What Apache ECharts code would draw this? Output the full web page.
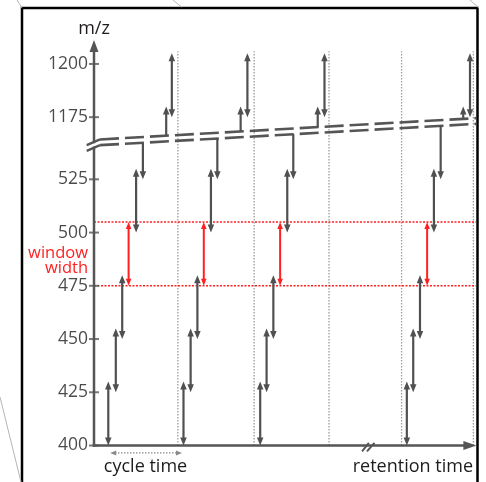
<!DOCTYPE html>
<html><head><meta charset="utf-8">
<script src="https://cdn.jsdelivr.net/npm/echarts@6/dist/echarts.min.js"></script>
<style>html,body{margin:0;padding:0;background:#fff}#c{width:486px;height:482px}</style>
</head><body><div id="c"></div>
<script>
// ---------------- data (m/z values; time in arbitrary units) ----------------
const yTickValues = [400, 425, 450, 475, 500, 525, 1175, 1200];
const windowLow  = [400, 425, 450, 475, 500];
const windowHigh = [430, 455, 480, 505, 530];
const redWindowIndex = 3;
const scanTimes = [
  [3.8, 5.8, 7.5, 9.2, 11.2],
  [23.8, 25.7, 27.5, 29.2, 31.1],
  [44.2, 45.9, 47.7, 49.5, 51.4],
  [83.2, 84.9, 86.7, 88.6, 90.4]
];
// window coming out of the axis break down to 525
const fromBreakTimes = [13.0, 32.8, 53.0, 92.2];
const fromBreakStart = [637.5, 726.5, 816.8, 992.5];
const fromBreakEnd = 525;
// window rising from the axis break up to 1180
const intoBreakTimes = [19.2, 39.0, 59.5, 98.2];
const intoBreakStart = [785.5, 874.0, 965.7, 1139.2];
const intoBreakEnd = 1180;
// last window of each cycle
const topWindowTimes = [20.7, 40.8, 61.3, 100.0];
const topWindow = [1175, 1205];
const cycleBoundaryTimes = [22.3, 42.6, 62.5, 81.8, 100.9];
const cycleLineTop = 1206;
const windowWidthLevels = [475, 505];
// double dashed break band [t1, mz1, t2, mz2]
const bandLines = [[1.6, 706.4, 101.6, 1154.4], [1.6, 587.0, 101.6, 1034.6]];
const axisBreakMarks = [[-1.94, 589.6, 1.6, 706.4], [-1.94, 538.4, 1.6, 587.0]];
const yAxisParts = [[0, 400, 0, 539.8, 0, 0], [0, 653.6, 0, 1211.2, 0, 1]];
const xAxisPart = [[0, 400, 101.7, 400, 0, 1]];
const cycleTimeArrow = [[4.3, 396.5, 23.4, 396.5, 1, 1]];
const timeBreakMarks = [[71.3, 397.2, 73.1, 401.2, 0, 0], [72.6, 397.2, 74.6, 401.2, 0, 0]];

// ---------------- build ----------------
const FONT = '"Open Sans", "DejaVu Sans", sans-serif';
const GRAY = '#505050';
const RED = '#ff2020';
const INK = '#1e1b1c';

const grayArrows = [], redArrows = [];
scanTimes.forEach((times, c) => {
  times.forEach((t, i) => {
    const item = [t, windowLow[i], t, windowHigh[i], 1, 1];
    (i === redWindowIndex ? redArrows : grayArrows).push(item);
  });
  grayArrows.push([fromBreakTimes[c], fromBreakStart[c], fromBreakTimes[c], fromBreakEnd, 0, 1]);
  grayArrows.push([intoBreakTimes[c], intoBreakStart[c], intoBreakTimes[c], intoBreakEnd, 0, 1]);
  grayArrows.push([topWindowTimes[c], topWindow[0], topWindowTimes[c], topWindow[1], 1, 1]);
});
const boundaryLines = cycleBoundaryTimes.map(t => [t, 400, t, cycleLineTop, 0, 0]);
const redLines = windowWidthLevels.map(v => [0, v, 101.6, v, 0, 0]);
const withFlags = a => a.map(r => r.length === 6 ? r : r.concat([0, 0]));

function segSeries(data, st, z) {
  return {
    type: 'custom', data: withFlags(data), clip: false, silent: true, z: z,
    renderItem: function (params, api) {
      const a = api.coord([api.value(0), api.value(1)]);
      const b = api.coord([api.value(2), api.value(3)]);
      const hs = api.value(4), he = api.value(5);
      const dx = b[0] - a[0], dy = b[1] - a[1];
      const len = Math.hypot(dx, dy) || 1;
      const ux = dx / len, uy = dy / len;
      const L = st.headLen || 0, W = (st.headWidth || 0) / 2;
      const p1 = hs ? [a[0] + ux * L * 0.8, a[1] + uy * L * 0.8] : a;
      const p2 = he ? [b[0] - ux * L * 0.8, b[1] - uy * L * 0.8] : b;
      const children = [{
        type: 'line',
        shape: { x1: p1[0], y1: p1[1], x2: p2[0], y2: p2[1] },
        style: { stroke: st.color, lineWidth: st.width, lineDash: st.dash || null, lineCap: st.cap || 'butt', fill: null }
      }];
      const head = (tip, ex, ey) => {
        const bx = tip[0] - ex * L, by = tip[1] - ey * L;
        return { type: 'polygon',
          shape: { points: [tip, [bx - ey * W, by + ex * W], [bx + ey * W, by - ex * W]] },
          style: { fill: st.color } };
      };
      if (hs) children.push(head(a, -ux, -uy));
      if (he) children.push(head(b, ux, uy));
      return { type: 'group', children: children };
    }
  };
}

const chart = echarts.init(document.getElementById('c'), null, { renderer: 'canvas' });
chart.setOption({
  animation: false,
  backgroundColor: '#fff',
  grid: { left: 94, right: 16, top: 46.9, bottom: 36.5, containLabel: false, outerBoundsMode: 'none' },
  xAxis: {
    type: 'value', min: 0, max: 100,
    axisLine: { show: false }, axisTick: { show: false }, axisLabel: { show: false }, splitLine: { show: false }
  },
  yAxis: {
    type: 'value', min: 400, max: 1208, interval: 25,
    breaks: [{ start: 540, end: 1175, gap: 14.2 }],
    breakArea: { show: false, itemStyle: { opacity: 0, borderWidth: 0 } },
    axisLine: { show: false }, axisTick: { show: false }, splitLine: { show: false },
    axisLabel: { show: false }
  },
  series: [
    segSeries(boundaryLines, { color: '#9c9c9c', width: 1.3, dash: [1.5, 1.5] }, 1),
    segSeries(redLines, { color: RED, width: 1.4, dash: [2, 1.5] }, 2),
    segSeries(bandLines, { color: '#555', width: 2.6, dash: [19, 6] }, 3),
    segSeries(axisBreakMarks, { color: '#555', width: 2.4 }, 3),
    segSeries(yAxisParts, { color: '#555', width: 2.5, headLen: 12, headWidth: 9, cap: 'square' }, 4),
    segSeries(xAxisPart, { color: '#555', width: 2.5, headLen: 13, headWidth: 9, cap: 'square' }, 4),
    segSeries(timeBreakMarks, { color: '#555', width: 2 }, 4),
    segSeries(grayArrows, { color: GRAY, width: 2.2, headLen: 8, headWidth: 6.5 }, 5),
    segSeries(redArrows, { color: RED, width: 2, headLen: 7, headWidth: 5.5 }, 5),
    segSeries(cycleTimeArrow, { color: '#8a8a8a', width: 1.3, dash: [1.5, 1.5], headLen: 6, headWidth: 5 }, 5),
    {
      type: 'scatter', data: yTickValues.map(v => [0, v]), symbol: 'rect', symbolSize: [10, 2],
      itemStyle: { color: '#555' }, clip: false, silent: true, z: 6,
      label: {
        show: true, position: 'left', distance: 1, fontFamily: FONT, fontSize: 17.5, color: INK,
        formatter: p => String(p.value[1])
      }
    }
  ],
  graphic: [
    { type: 'text', x: 94, y: 28.5, z: 10,
      style: { text: 'm/z', font: '18px ' + FONT, fill: INK, align: 'center', verticalAlign: 'middle', textAlign: 'center', textVerticalAlign: 'middle' } },
    { type: 'text', x: 88, y: 253.5, z: 10,
      style: { text: 'window', font: '16.5px ' + FONT, fill: RED, align: 'right', verticalAlign: 'middle', textAlign: 'right', textVerticalAlign: 'middle' } },
    { type: 'text', x: 88, y: 268, z: 10,
      style: { text: 'width', font: '16.5px ' + FONT, fill: RED, align: 'right', verticalAlign: 'middle', textAlign: 'right', textVerticalAlign: 'middle' } },
    { type: 'text', x: 145.5, y: 467, z: 10,
      style: { text: 'cycle time', font: '18px ' + FONT, fill: INK, align: 'center', verticalAlign: 'middle', textAlign: 'center', textVerticalAlign: 'middle' } },
    { type: 'text', x: 473, y: 467, z: 10,
      style: { text: 'retention time', font: '18px ' + FONT, fill: INK, align: 'right', verticalAlign: 'middle', textAlign: 'right', textVerticalAlign: 'middle' } },
    { type: 'rect', z: 20, shape: { x: 22, y: 8, width: 455.5, height: 490 },
      style: { fill: null, stroke: '#000', lineWidth: 2.5 } },
    { type: 'line', z: 20, shape: { x1: 17, y1: 0, x2: 22, y2: 8 }, style: { stroke: '#b5b5b5', lineWidth: 1 } },
    { type: 'line', z: 20, shape: { x1: 173, y1: 0, x2: 181.5, y2: 7 }, style: { stroke: '#b5b5b5', lineWidth: 1 } },
    { type: 'line', z: 20, shape: { x1: 470, y1: 0, x2: 479, y2: 8 }, style: { stroke: '#b5b5b5', lineWidth: 1 } },
    { type: 'line', z: 20, shape: { x1: 0, y1: 397, x2: 21, y2: 482 }, style: { stroke: '#b5b5b5', lineWidth: 1 } }
  ]
});
</script>
</body></html>
